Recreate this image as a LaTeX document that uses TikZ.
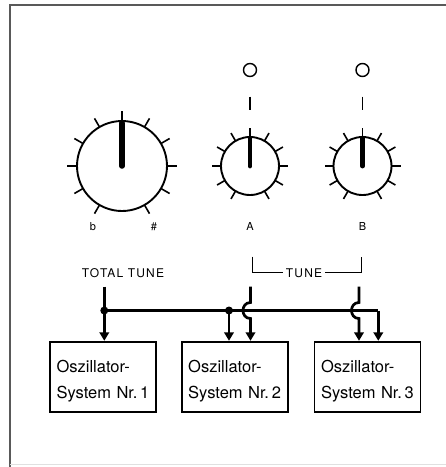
\documentclass[tikz,border=0pt]{standalone}
\usepackage{fontspec}
\setmainfont{TeX Gyre Heros}
\newfontfamily\spacedfont[LetterSpace=10]{TeX Gyre Heros}
\usetikzlibrary{arrows.meta,calc}
\tikzset{
  frameline/.style={line width=2pt, draw=black!65},
  knobcircle/.style={circle, draw, line width=1.9pt, inner sep=0pt, outer sep=0pt},
  knobtick/.style={line width=1.6pt},
  ledcircle/.style={circle, draw, line width=1.4pt, inner sep=0pt, minimum size=13pt},
  ledline/.style={line width=1.5pt},
  knoblabel/.style={font=\fontsize{11}{13}\selectfont, inner sep=0pt, anchor=base},
  grouplabel/.style={font=\spacedfont\fontsize{12}{14}\selectfont, inner sep=0pt, anchor=base},
  bracketline/.style={line width=1.4pt},
  bus/.style={line width=2.7pt},
  sig/.style={line width=2.7pt, -{Triangle[width=9.5pt,length=8.5pt]}},
  busdot/.style={circle, fill, inner sep=0pt, minimum size=8pt},
  oscbox/.style={draw, line width=1.8pt, minimum width=106pt, minimum height=70pt,
    text width=93pt, inner xsep=6.5pt, align=left, font=\fontsize{16.5}{26}\selectfont},
}
\begin{document}
\begin{tikzpicture}[x=1pt,y=-1pt]
\useasboundingbox (0,0) rectangle (446,467);
% frame
\coordinate (F1) at (446,5);
\coordinate (F2) at (10,5);
\coordinate (F3) at (10,467);
\draw[frameline] (F1) -- (F2) -- (F3);
\coordinate (F4) at (10,464);
\coordinate (F5) at (446,464);
\draw[line width=1pt, draw=black!12] (F4) -- (F5);

% big knob
\node[knobcircle, minimum size=90pt] (K0) at (122,166) {};
\foreach \a in {0,30,60,120,150,180,210,240,270,300,330}
  \draw[knobtick] ($(K0.center)+(\a:45)$) -- ($(K0.center)+(\a:55)$);
\draw[line width=5.5pt, line cap=round] (K0.center) -- ($(K0.center)+(0,-43)$);
\node[knoblabel] (flat) at (93,230.5) {b};
\node[knoblabel] (sharp) at (154,230.5) {\#};

% knob A
\node[knobcircle, minimum size=58pt] (KA) at (250,166) {};
\foreach \a in {0,30,60,120,150,180,210,240,270,300,330}
  \draw[knobtick] ($(KA.center)+(\a:29)$) -- ($(KA.center)+(\a:38)$);
\draw[line width=4.8pt, line cap=round] (KA.center) -- ($(KA.center)+(0,-28)$);
\node[knoblabel] (labA) at (250,230.5) {A};
\node[ledcircle] (LA) at (250,70) {};
\coordinate (LAt) at (250,96.5);
\coordinate (LAb) at (250,110);
\draw[ledline] (LAt) -- (LAb);

% knob B
\node[knobcircle, minimum size=58pt] (KB) at (362.5,166) {};
\foreach \a in {0,30,60,120,150,180,210,240,270,300,330}
  \draw[knobtick] ($(KB.center)+(\a:29)$) -- ($(KB.center)+(\a:38)$);
\draw[line width=4.8pt, line cap=round] (KB.center) -- ($(KB.center)+(0,-28)$);
\node[knoblabel] (labB) at (362.5,230.5) {B};
\node[ledcircle] (LB) at (362.5,70) {};
\coordinate (LBt) at (362.5,96.5);
\coordinate (LBb) at (362.5,110);
\draw[ledline] (LBt) -- (LBb);

% labels
\node[grouplabel] (tt) at (123,277) {TOTAL TUNE};
\node[grouplabel, inner xsep=3pt] (tune) at (304,277) {TUNE};
\coordinate (BL) at (252.3,256.5);
\coordinate (BR) at (361.7,256.5);
\draw[bracketline] (BL) -- (BL |- 0,272.3) -- (tune.west |- 0,272.3);
\draw[bracketline] (tune.east |- 0,272.3) -- (BR |- 0,272.3) -- (BR);

% boxes
\node[oscbox] (box1) at (103,376.7) {\rule{0pt}{20.5pt}Oszillator-\\System Nr.\,1};
\node[oscbox] (box2) at (234.7,376.7) {\rule{0pt}{20.5pt}Oszillator-\\System Nr.\,2};
\node[oscbox] (box3) at (367.5,376.7) {\rule{0pt}{20.5pt}Oszillator-\\System Nr.\,3};

% bus
\coordinate (TTtop) at (104.3,286.5);
\coordinate (D1c) at (104.3,310.5);
\coordinate (D2c) at (229,310.5);
\coordinate (Ctr) at (378.3,310.5);
\coordinate (Atop) at (250.5,286.5);
\coordinate (Btop) at (359,286.5);
\draw[bus] (D1c) -- (Ctr);
\draw[sig] (TTtop) -- (TTtop |- box1.north);
\draw[sig] (D2c) -- (D2c |- box2.north);
\draw[sig] (Ctr) -- (Ctr |- box3.north);
\draw[sig] (Atop) -- ($(Atop |- D1c)+(0,-8)$) .. controls +(-10,0) and +(-10,0) .. ($(Atop |- D1c)+(0,8)$) -- (Atop |- box2.north);
\draw[sig] (Btop) -- ($(Btop |- D1c)+(0,-8)$) .. controls +(-10,0) and +(-10,0) .. ($(Btop |- D1c)+(0,8)$) -- (Btop |- box3.north);
\node[busdot] (D1) at (D1c) {};
\node[busdot] (D2) at (D2c) {};
\end{tikzpicture}
\end{document}
